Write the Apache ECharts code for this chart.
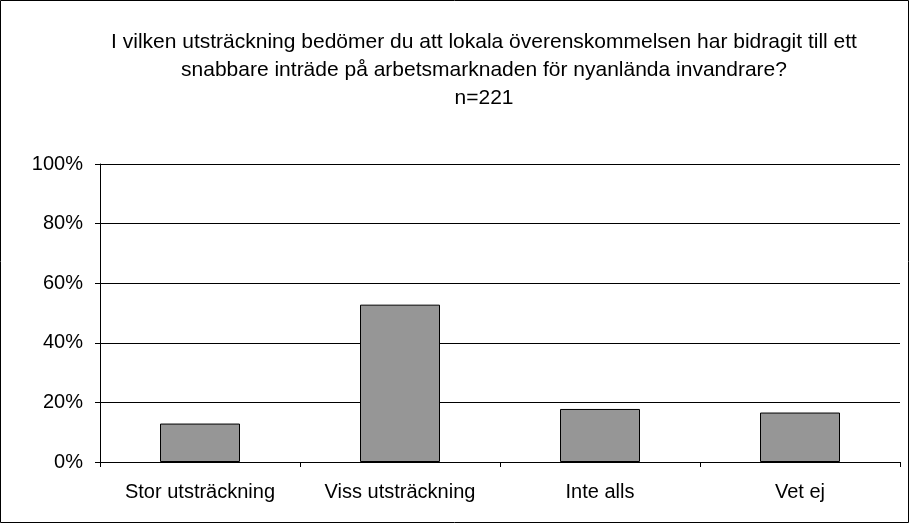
<!DOCTYPE html>
<html>
<head>
<meta charset="utf-8">
<script src="https://cdn.jsdelivr.net/npm/echarts@6/dist/echarts.min.js"></script>
<style>
  html, body { margin: 0; padding: 0; background: #fff; }
  #chart { width: 909px; height: 523px; }
</style>
</head>
<body>
<div id="chart"></div>
<script>
// svarsalternativ och andel (%)
const categories = ['Stor utsträckning', 'Viss utsträckning', 'Inte alls', 'Vet ej'];
const shares = [12.9, 52.8, 17.8, 16.6];
const titleLines = [
  'I vilken utsträckning bedömer du att lokala överenskommelsen har bidragit till ett',
  'snabbare inträde på arbetsmarknaden för nyanlända invandrare?',
  'n=221'
];

const chart = echarts.init(document.getElementById('chart'));
const font = '"Liberation Sans", Arial, sans-serif';

chart.setOption({
  backgroundColor: '#fff',
  animation: false,
  title: {
    text: titleLines.join('\n'),
    left: 479, // titeln sitter lite till höger om mitten
    textAlign: 'center',
    top: 23,
    textStyle: {
      fontFamily: font,
      fontSize: 21,
      fontWeight: 'normal',
      color: '#000',
      lineHeight: 28
    }
  },
  // ram runt hela diagrammet
  graphic: [{
    type: 'rect',
    shape: { x: 0.5, y: 0.5, width: 908, height: 522 },
    style: { fill: 'none', stroke: '#000', lineWidth: 1 },
    silent: true
  }],
  grid: {
    left: 100,
    right: 9,
    top: 164,
    bottom: 61
  },
  xAxis: {
    type: 'category',
    data: categories,
    boundaryGap: true,
    axisLine: { lineStyle: { color: '#000', width: 1 } },
    axisTick: { show: true, length: 5, lineStyle: { color: '#000' } },
    axisLabel: {
      fontFamily: font,
      fontSize: 20,
      color: '#000',
      margin: 20
    }
  },
  yAxis: {
    type: 'value',
    min: 0,
    max: 100,
    interval: 20,
    axisLine: { show: true, lineStyle: { color: '#000', width: 1 } },
    axisTick: { show: true, length: 5, lineStyle: { color: '#000' } },
    axisLabel: {
      formatter: '{value}%',
      fontFamily: font,
      fontSize: 20,
      color: '#000',
      margin: 17
    },
    splitLine: { lineStyle: { color: '#000', width: 1 } }
  },
  series: [{
    type: 'bar',
    data: shares,
    barWidth: '40%',
    itemStyle: {
      color: '#969696',
      borderColor: '#000',
      borderWidth: 1
    }
  }]
});
</script>
</body>
</html>
